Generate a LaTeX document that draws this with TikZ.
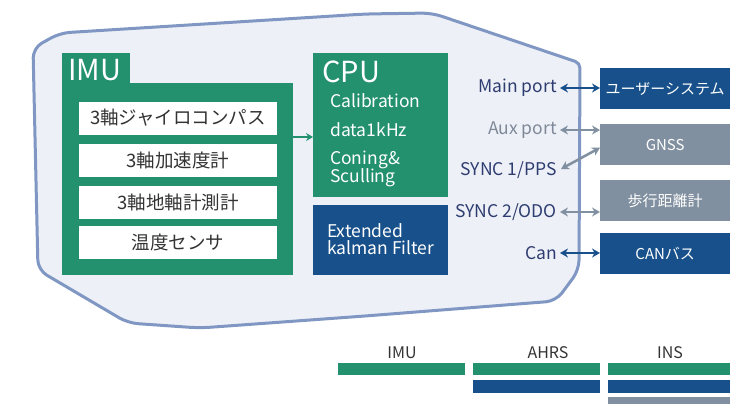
\documentclass[tikz,border=0pt]{standalone}
\usepackage{fontspec}
\setmainfont{Noto Sans CJK JP}
\usetikzlibrary{arrows.meta}
\definecolor{cgreen}{HTML}{23906E}
\definecolor{cnavy}{HTML}{17508A}
\definecolor{cgray}{HTML}{8190A0}
\definecolor{cout}{HTML}{7F97C2}
\definecolor{cfill}{HTML}{EEF0F8}
\definecolor{ctxt}{HTML}{333333}
\definecolor{cport}{HTML}{2E3D70}
\definecolor{cportg}{HTML}{7E8998}
\newcommand{\fs}[1]{\fontsize{#1}{#1}\selectfont}
\tikzset{
  sensor/.style={fill=white, minimum width=198pt, minimum height=33pt, inner sep=0pt, text=ctxt, font=\fs{18.5}},
  extbox/.style={minimum width=130pt, minimum height=41pt, inner sep=0pt, text=white, font=\fs{15}, anchor=north west},
  port/.style={anchor=east, inner sep=0pt, font=\fs{17.5}},
  bidir/.style={{Stealth[length=8pt,width=9pt]}-{Stealth[length=8pt,width=9pt]}, line width=2.5pt},
  lbl/.style={text=ctxt, font=\fs{16}, inner sep=0pt},
  cputxt/.style={text=white, font=\fs{17.5}, inner sep=0pt, anchor=west, align=left}
}
\begin{document}
\begin{tikzpicture}[x=1pt,y=-1pt]
\useasboundingbox (0,0) rectangle (730,404);
% outer housing
\draw[cout, fill=cfill, line width=3pt, rounded corners=10pt]
  (38,270) -- (33,48) -- (60,33) -- (365,14) -- (432,13) [rounded corners=5pt] -- (580,63) [rounded corners=10pt] -- (579,270) -- (556,301) -- (365,316) -- (200,328) -- (128,323) -- cycle;
% IMU block
\fill[cgreen] (62,53) rectangle (130,84);
\fill[cgreen] (62,83) rectangle (293,275);
\node[text=white, font=\fs{29}, inner sep=0pt, anchor=west] (imut) at (68,70) {IMU};
\node[sensor] (s1) at (178,118) {3軸ジャイロコンパス};
\node[sensor] (s2) at (178,160) {3軸加速度計};
\node[sensor] (s3) at (178,202) {3軸地軸計測計};
\node[sensor] (s4) at (178,242) {温度センサ};
\coordinate (imuR) at (293,137);
% CPU block
\node[fill=cgreen, minimum width=135pt, minimum height=144pt, inner sep=0pt, anchor=north west] (cpu) at (313,53) {};
\node[text=white, font=\fs{29}, inner sep=0pt, anchor=west] at (322,72) {CPU};
\node[cputxt] at (330,101) {Calibration};
\node[cputxt] at (330,130) {data1kHz};
\node[cputxt] at (330,169) {Coning\&\\[-1pt]Sculling};
\node[fill=cnavy, minimum width=135pt, minimum height=70pt, inner sep=0pt, anchor=north west] (ekf) at (313,205) {};
\node[cputxt] at (327,239) {Extended\\[-1pt]kalman Filter};
\draw[cgreen, line width=2.5pt, -{Stealth[length=7pt,width=8pt]}] (imuR) -- (cpu.west |- imuR);
% ports
\node[port, text=cport] (mp) at (557,88) {Main port};
\node[port, text=cportg] (ap) at (557,130) {Aux port};
\node[port, text=cport] (sp1) at (557,170) {SYNC 1/PPS};
\node[port, text=cport] (sp2) at (557,212) {SYNC 2/ODO};
\node[port, text=cport] (cn) at (557,253) {Can};
% external boxes
\node[extbox, fill=cnavy] (us) at (600,68) {ユーザーシステム};
\node[extbox, fill=cgray] (gn) at (600,124) {GNSS};
\node[extbox, fill=cgray] (od) at (600,180) {歩行距離計};
\node[extbox, fill=cnavy] (cb) at (600,233) {CANバス};
% arrows
\draw[bidir, cnavy] ([xshift=3pt]mp.east) -- (us.west |- mp.east);
\draw[bidir, cgray] ([xshift=3pt]ap.east) -- (gn.west |- ap.east);
\draw[bidir, cgray] ([xshift=4pt,yshift=1pt]sp1.east) -- ([yshift=-3pt]gn.west);
\draw[bidir, cgray] ([xshift=3pt]sp2.east) -- (od.west |- sp2.east);
\draw[bidir, cnavy] ([xshift=3pt]cn.east) -- (cb.west |- cn.east);
% bottom legend
\node[lbl] (limu) at (402,353) {IMU};
\node[lbl] (lahrs) at (548,353) {AHRS};
\node[lbl] (lins) at (670,353) {INS};
\fill[cgreen] (338,363) rectangle (465,375);
\fill[cgreen] (473,363) rectangle (600,375);
\fill[cnavy] (473,380) rectangle (600,393);
\fill[cgreen] (608,363) rectangle (730,375);
\fill[cnavy] (608,380) rectangle (730,393);
\fill[cgray] (608,397) rectangle (730,404);
\end{tikzpicture}
\end{document}
